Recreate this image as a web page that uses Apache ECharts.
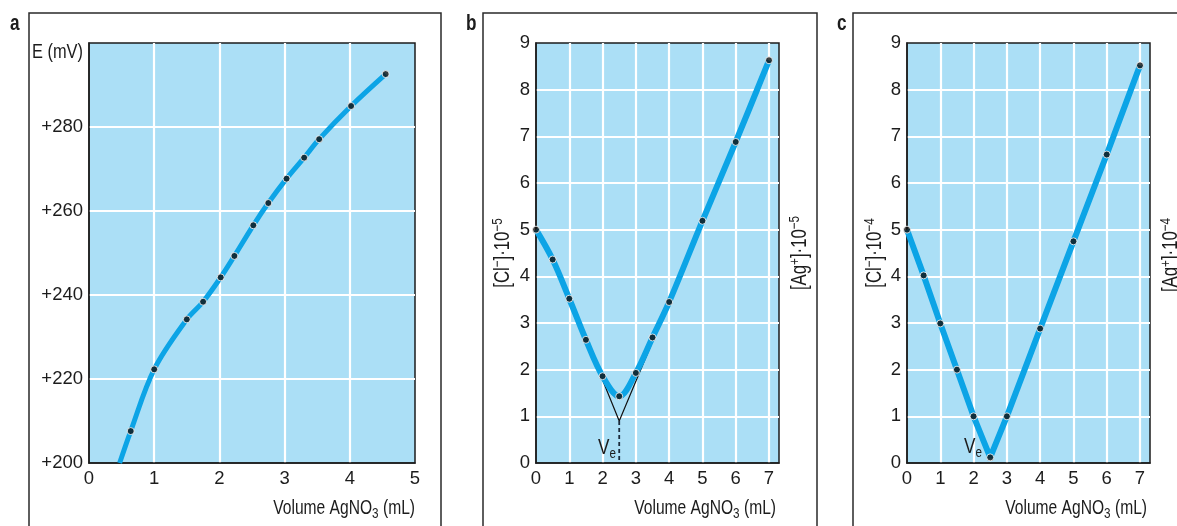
<!DOCTYPE html>
<html>
<head>
<meta charset="utf-8">
<script src="https://cdn.jsdelivr.net/npm/echarts@6/dist/echarts.min.js"></script>
<style>
html,body{margin:0;padding:0;background:#fff;}
#chart{width:1177px;height:526px;}
</style>
</head>
<body>
<div id="chart"></div>
<script>
// ---------- DATA ----------
// Panel a: potential vs volume
const aVolume    = [0.64, 1.0, 1.5, 1.75, 2.02, 2.23, 2.52, 2.75, 3.03, 3.3, 3.53, 4.02, 4.55];
const aPotential = [207.6, 222.3, 234.2, 238.4, 244.2, 249.3, 256.6, 261.9, 267.7, 272.7, 277.1, 285.0, 292.6];
const aCurveStart = [0.47, 200];
const aYTicks = [200, 220, 240, 260, 280];

// Panel b: [Cl-]/[Ag+] x 1e-5
const bVolume = [0, 0.5, 1, 1.5, 2, 2.5, 3, 3.5, 4, 5, 6, 7];
const bConc   = [5.0, 4.36, 3.52, 2.64, 1.86, 1.43, 1.93, 2.69, 3.45, 5.19, 6.88, 8.63];
const bTangentX = [1.45, 2.5, 3.95];
const bTangentY = [2.75, 0.9, 3.37];
const bEquivalence = [2.5, 0.9];

// Panel c: [Cl-]/[Ag+] x 1e-4
const cVolume = [0, 0.5, 1, 1.5, 2, 2.5, 3, 4, 5, 6, 7];
const cConc   = [5.0, 4.02, 2.99, 2.0, 1.0, 0.12, 1.0, 2.88, 4.75, 6.61, 8.52];

// ---------- STYLE ----------
const FONT = '"Liberation Sans","Arial",sans-serif';
const BLUE = '#0ca4e6';
const BG = '#abdff6';
const DARK = '#1c1c1c';
const SQ = 0.78; // horizontal squeeze to imitate a condensed face
const zip = (xs, ys) => xs.map((x, i) => [x, ys[i]]);

const gridBase = {show: true, backgroundColor: BG, borderColor: DARK, borderWidth: 1.5, top: 43, height: 420};
const axisCommon = {
  axisLine: {show: true, lineStyle: {color: DARK, width: 1.5}},
  axisTick: {show: false},
  splitLine: {show: true, showMinLine: false, showMaxLine: false, lineStyle: {color: '#ffffff', width: 2.2}},
  axisLabel: {color: DARK, fontFamily: FONT, fontSize: 18.5}
};
function xAx(gi, max) {
  return Object.assign({}, axisCommon, {
    type: 'value', gridIndex: gi, min: 0, max: max, interval: 1,
    axisLabel: Object.assign({}, axisCommon.axisLabel, {margin: 6, showMaxLabel: max === 5, formatter: v => Number.isInteger(v) ? String(v) : ''})
  });
}
function yAx(gi, min, max, interval, fmt) {
  return Object.assign({}, axisCommon, {
    type: 'value', gridIndex: gi, min: min, max: max, interval: interval,
    axisLabel: Object.assign({}, axisCommon.axisLabel, {margin: 6, formatter: fmt})
  });
}

const sup = {fontFamily: FONT, fontSize: 15, verticalAlign: 'top', lineHeight: 22};
const sub = {fontFamily: FONT, fontSize: 15, verticalAlign: 'bottom', lineHeight: 27};
function txt(x, y, text, opts) {
  return Object.assign({
    type: 'text', x: x, y: y, z: 100, scaleX: SQ,
    style: Object.assign({text: text, fontFamily: FONT, fontSize: 20, fill: DARK,
      rich: {sup: sup, sub: sub,
             n: {fontFamily: FONT, fontSize: 20, lineHeight: 26},
             r: {fontFamily: FONT, fontSize: 21.5, lineHeight: 26},
             v: {fontFamily: FONT, fontSize: 22, lineHeight: 26}}}, opts && opts.style)
  }, opts && opts.el);
}

const option = {
  animation: false,
  backgroundColor: '#ffffff',
  grid: [
    Object.assign({}, gridBase, {left: 89, width: 326}),
    Object.assign({}, gridBase, {left: 536, width: 243}),
    Object.assign({}, gridBase, {left: 907, width: 243})
  ],
  xAxis: [xAx(0, 5), xAx(1, 7.3), xAx(2, 7.3)],
  yAxis: [
    yAx(0, 200, 300, 20, v => aYTicks.includes(v) ? '+' + v : ''),
    yAx(1, 0, 9, 1, v => String(v)),
    yAx(2, 0, 9, 1, v => String(v))
  ],
  series: [
    // panel a
    {type: 'line', xAxisIndex: 0, yAxisIndex: 0, smooth: 0.35, showSymbol: false, z: 3,
     lineStyle: {color: BLUE, width: 5}, data: [aCurveStart].concat(zip(aVolume, aPotential))},
    {type: 'scatter', xAxisIndex: 0, yAxisIndex: 0, z: 5, symbolSize: 7,
     itemStyle: {color: '#111', borderColor: '#ffffff', borderWidth: 1}, data: zip(aVolume, aPotential)},
    // panel b
    {type: 'line', xAxisIndex: 1, yAxisIndex: 1, showSymbol: false, z: 2,
     lineStyle: {color: '#111', width: 1.2}, data: zip(bTangentX, bTangentY)},
    {type: 'line', xAxisIndex: 1, yAxisIndex: 1, showSymbol: false, z: 2,
     lineStyle: {color: '#1b2b3c', width: 1.8, type: [4, 3]}, data: [bEquivalence, [bEquivalence[0], 0]]},
    {type: 'line', xAxisIndex: 1, yAxisIndex: 1, smooth: 0.35, showSymbol: false, z: 3,
     lineStyle: {color: BLUE, width: 6}, data: zip(bVolume, bConc)},
    {type: 'scatter', xAxisIndex: 1, yAxisIndex: 1, z: 5, symbolSize: 7,
     itemStyle: {color: '#111', borderColor: '#ffffff', borderWidth: 1}, data: zip(bVolume, bConc)},
    // panel c
    {type: 'line', xAxisIndex: 2, yAxisIndex: 2, showSymbol: false, z: 3,
     lineStyle: {color: BLUE, width: 6}, data: zip(cVolume, cConc)},
    {type: 'scatter', xAxisIndex: 2, yAxisIndex: 2, z: 5, symbolSize: 7,
     itemStyle: {color: '#111', borderColor: '#ffffff', borderWidth: 1}, data: zip(cVolume, cConc)}
  ],
  graphic: [
    // panel frames (open at the bottom, extend below image)
    {type: 'rect', shape: {x: 29, y: 13, width: 412, height: 600}, style: {fill: null, stroke: '#2a2a2a', lineWidth: 1.5}, z: 0},
    {type: 'rect', shape: {x: 483, y: 13, width: 334, height: 600}, style: {fill: null, stroke: '#2a2a2a', lineWidth: 1.5}, z: 0},
    {type: 'rect', shape: {x: 853, y: 13, width: 400, height: 600}, style: {fill: null, stroke: '#2a2a2a', lineWidth: 1.5}, z: 0},
    // panel letters
    txt(10, 24, 'a', {style: {fontWeight: 'bold', fontSize: 22, verticalAlign: 'middle'}}),
    txt(466, 24, 'b', {style: {fontWeight: 'bold', fontSize: 22, verticalAlign: 'middle'}}),
    txt(837, 24, 'c', {style: {fontWeight: 'bold', fontSize: 22, verticalAlign: 'middle'}}),
    // axis titles
    txt(83, 52, 'E (mV)', {style: {align: 'right', verticalAlign: 'middle', fontSize: 21}}),
    txt(415, 508, '{n|Volume AgNO}{sub|3}{n| (mL)}', {style: {align: 'right', verticalAlign: 'middle'}}),
    txt(776, 508, '{n|Volume AgNO}{sub|3}{n| (mL)}', {style: {align: 'right', verticalAlign: 'middle'}}),
    txt(1147, 508, '{n|Volume AgNO}{sub|3}{n| (mL)}', {style: {align: 'right', verticalAlign: 'middle'}}),
    // rotated concentration titles
    txt(503, 253, '{r|[Cl}{sup|−}{r|]·10}{sup|−5}', {style: {align: 'center', verticalAlign: 'middle'}, el: {rotation: Math.PI / 2}}),
    txt(800, 253, '{r|[Ag}{sup|+}{r|]·10}{sup|−5}', {style: {align: 'center', verticalAlign: 'middle'}, el: {rotation: Math.PI / 2}}),
    txt(875, 253, '{r|[Cl}{sup|−}{r|]·10}{sup|−4}', {style: {align: 'center', verticalAlign: 'middle'}, el: {rotation: Math.PI / 2}}),
    txt(1171, 255, '{r|[Ag}{sup|+}{r|]·10}{sup|−4}', {style: {align: 'center', verticalAlign: 'middle'}, el: {rotation: Math.PI / 2}}),
    // equivalence labels
    txt(598, 448, '{v|V}{sub|e}', {style: {align: 'left', verticalAlign: 'middle'}}),
    txt(964, 447, '{v|V}{sub|e}', {style: {align: 'left', verticalAlign: 'middle'}})
  ]
};
const chart = echarts.init(document.getElementById('chart'), null, {renderer: 'canvas'});
chart.setOption(option);
</script>
</body>
</html>
